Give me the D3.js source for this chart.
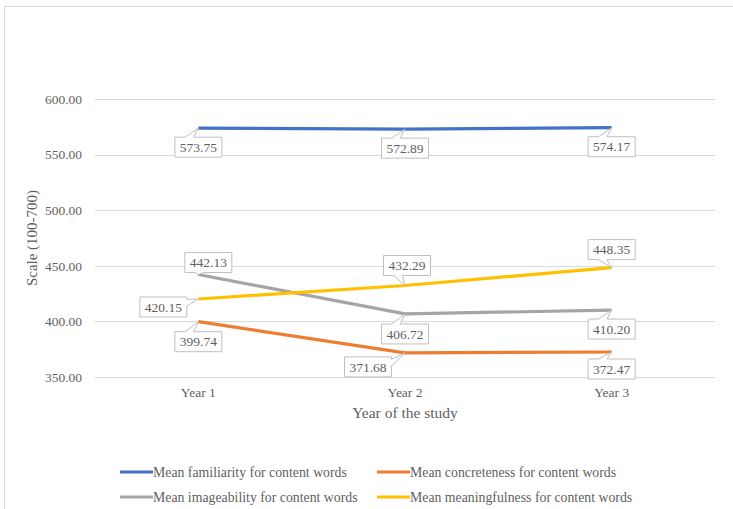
<!DOCTYPE html>
<html>
<head>
<meta charset="utf-8">
<script src="https://cdn.jsdelivr.net/npm/d3@7"></script>
<style>
  html, body { margin: 0; padding: 0; background: #fff; }
  svg { display: block; }
  text { font-family: "Liberation Serif", "Times New Roman", serif; fill: #5f5f5f; }
</style>
</head>
<body>
<svg id="chart" width="733" height="509"></svg>
<script>
// Years of the study
const years = ["Year 1", "Year 2", "Year 3"];

// Series names (legend order)
const seriesNames = [
  "Mean familiarity for content words",
  "Mean concreteness for content words",
  "Mean imageability for content words",
  "Mean meaningfulness for content words"
];

// Values per year for each series
const familiarity     = [573.75, 572.89, 574.17];
const concreteness    = [399.74, 371.68, 372.47];
const imageability    = [442.13, 406.72, 410.20];
const meaningfulness  = [420.15, 432.29, 448.35];

// Y-axis ticks
const yTicks = [350, 400, 450, 500, 550, 600];

const seriesValues = [familiarity, concreteness, imageability, meaningfulness];
const seriesColors = ["#4472C4", "#ED7D31", "#A5A5A5", "#FFC000"];

// Callout box offsets (box centre relative to the data point), per series / year
const calloutOffsets = [
  [[0, 19], [0, 19], [0, 19]],
  [[0, 20], [-37, 14], [0, 17]],
  [[10, -12], [0, 20], [0, 19]],
  [[-35, 8], [2, -20], [0, -18]]
];

const svg = d3.select("#chart");

// Chart frame
svg.append("rect")
  .attr("x", 4.5).attr("y", 6.5)
  .attr("width", 760).attr("height", 540)
  .attr("fill", "#fff").attr("stroke", "#d9d9d9").attr("stroke-width", 1);

const plot = { left: 95, right: 715, top: 99, bottom: 377 };

const x = d3.scalePoint().domain(years).range([plot.left, plot.right]).padding(0.5);
const y = d3.scaleLinear().domain([350, 600]).range([plot.bottom, plot.top]);

// Gridlines
svg.append("g").selectAll("line").data(yTicks).join("line")
  .attr("x1", plot.left).attr("x2", plot.right)
  .attr("y1", d => Math.round(y(d)) + 0.5).attr("y2", d => Math.round(y(d)) + 0.5)
  .attr("stroke", "#d9d9d9").attr("stroke-width", 1);

// Y tick labels
svg.append("g").selectAll("text").data(yTicks).join("text")
  .attr("x", 82).attr("y", d => y(d))
  .attr("dy", "0.35em")
  .attr("text-anchor", "end")
  .attr("font-size", 13.5)
  .text(d => d3.format(".2f")(d));

// X tick labels
svg.append("g").selectAll("text").data(years).join("text")
  .attr("x", d => x(d)).attr("y", 397)
  .attr("text-anchor", "middle")
  .attr("font-size", 13.5)
  .text(d => d);

// Axis titles
svg.append("text")
  .attr("x", (plot.left + plot.right) / 2).attr("y", 418)
  .attr("text-anchor", "middle")
  .attr("font-size", 15.5)
  .text("Year of the study");

svg.append("text")
  .attr("transform", `translate(37, ${(plot.top + plot.bottom) / 2}) rotate(-90)`)
  .attr("text-anchor", "middle")
  .attr("font-size", 15)
  .text("Scale (100-700)");

// Series lines
const line = d3.line().x((d, i) => x(years[i])).y(d => y(d));
svg.append("g").selectAll("path").data(seriesValues).join("path")
  .attr("d", d => line(d))
  .attr("fill", "none")
  .attr("stroke", (d, i) => seriesColors[i])
  .attr("stroke-width", 3.2)
  .attr("stroke-linejoin", "round");

// Callout outline: rectangle with a wedge pointing at (px, py)
function calloutPath(cx, cy, w, h, px, py) {
  const l = cx - w / 2, r = cx + w / 2, t = cy - h / 2, b = cy + h / 2;
  const dx = (px - cx) / (w / 2), dy = (py - cy) / (h / 2);
  const pts = [];
  if (Math.abs(dy) >= Math.abs(dx)) {
    const right = dx > 0.6;
    const a = right ? l + w * 0.63 : l + w * 0.22;
    const c = right ? l + w * 0.80 : l + w * 0.40;
    if (dy < 0) {
      pts.push([l, t], [a, t], [px, py], [c, t], [r, t], [r, b], [l, b]);
    } else {
      pts.push([l, t], [r, t], [r, b], [c, b], [px, py], [a, b], [l, b]);
    }
  } else {
    const a = t + h * 0.12, c = t + h * 0.45;
    if (dx > 0) {
      pts.push([l, t], [r, t], [r, a], [px, py], [r, c], [r, b], [l, b]);
    } else {
      pts.push([l, t], [r, t], [r, b], [l, b], [l, c], [px, py], [l, a]);
    }
  }
  return "M" + pts.map(p => p.join(",")).join("L") + "Z";
}

// Data callouts
const labels = [];
seriesValues.forEach((vals, si) => {
  vals.forEach((v, yi) => {
    labels.push({ v, px: x(years[yi]), py: y(v), off: calloutOffsets[si][yi] });
  });
});

const lab = svg.append("g").selectAll("g").data(labels).join("g");
lab.append("path")
  .attr("d", d => calloutPath(d.px + d.off[0], d.py + d.off[1], 47, 20, d.px, d.py))
  .attr("fill", "#fff")
  .attr("stroke", "#bfbfbf")
  .attr("stroke-width", 1);
lab.append("text")
  .attr("x", d => d.px + d.off[0]).attr("y", d => d.py + d.off[1])
  .attr("dy", "0.35em")
  .attr("text-anchor", "middle")
  .attr("font-size", 13.5)
  .text(d => d3.format(".2f")(d.v));

// Legend
const legendPos = [[120, 472], [377, 472], [120, 497], [377, 497]];
const leg = svg.append("g").selectAll("g").data(seriesNames).join("g")
  .attr("transform", (d, i) => `translate(${legendPos[i][0]}, ${legendPos[i][1]})`);
leg.append("line")
  .attr("x1", 0).attr("x2", 33).attr("y1", 0).attr("y2", 0)
  .attr("stroke", (d, i) => seriesColors[i]).attr("stroke-width", 3);
leg.append("text")
  .attr("x", 33).attr("y", 0).attr("dy", "0.35em")
  .attr("font-size", 13.8)
  .text(d => d);
</script>
</body>
</html>
